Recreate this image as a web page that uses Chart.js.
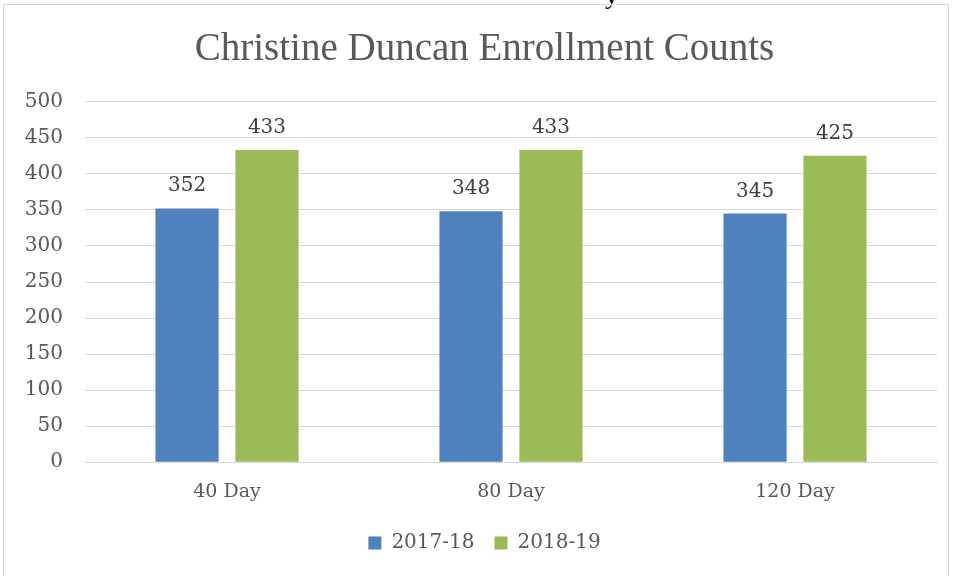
<!DOCTYPE html>
<html>
<head>
<meta charset="utf-8">
<script src="https://cdn.jsdelivr.net/npm/chart.js@4"></script>
<style>
  html, body { margin: 0; padding: 0; background: #fff; }
  #wrap { position: relative; width: 954px; height: 576px; overflow: hidden; }
  #frame { position: absolute; left: 3px; top: 4px; width: 946px; height: 580px; border: 1.5px solid #d9d9d9; box-sizing: border-box; }
  #chartBox { position: absolute; left: 0; top: 0; width: 954px; height: 576px; }
  #clipText { position: absolute; left: 605px; top: -19px; font: 26px 'Liberation Serif', serif; color: #000; }
</style>
</head>
<body>
<div id="wrap">
  <div id="clipText">y</div>
  <div id="frame"></div>
  <div id="chartBox"><canvas id="enrollChart"></canvas></div>
</div>
<script>
// Chart data
const categories = ['40 Day', '80 Day', '120 Day'];
const seriesNames = ['2017-18', '2018-19'];
const counts1718 = [352, 348, 345];
const counts1819 = [433, 433, 425];
const yTicks = [0, 50, 100, 150, 200, 250, 300, 350, 400, 450, 500];

const serif = "'DejaVu Serif', 'Liberation Serif', serif";

// draw the value above each bar
const valueLabels = {
    id: 'valueLabels',
    afterDatasetsDraw(chart) {
        const ctx = chart.ctx;
        ctx.save();
        ctx.font = '20px ' + serif;
        ctx.fillStyle = '#404040';
        ctx.textAlign = 'center';
        ctx.textBaseline = 'alphabetic';
        chart.data.datasets.forEach((ds, i) => {
            chart.getDatasetMeta(i).data.forEach((bar, j) => {
                ctx.fillText(ds.data[j], bar.x, bar.y - 17);
            });
        });
        ctx.restore();
    }
};

const enrollChart = new Chart(document.getElementById('enrollChart').getContext('2d'), {
    type: 'bar',
    data: {
        labels: categories,
        datasets: [{
            label: seriesNames[0],
            data: counts1718,
            backgroundColor: '#4f81bd',
            categoryPercentage: 0.563,
            barPercentage: 0.79
        }, {
            label: seriesNames[1],
            data: counts1819,
            backgroundColor: '#9bbb59',
            categoryPercentage: 0.563,
            barPercentage: 0.79
        }]
    },
    options: {
        responsive: true,
        maintainAspectRatio: false,
        animation: false,
        layout: { padding: { left: 16, right: 1, top: 26, bottom: 13 } },
        plugins: {
            title: {
                display: true,
                text: 'Christine Duncan Enrollment Counts',
                color: '#595959',
                font: { family: "'Liberation Serif', serif", size: 39, weight: 'normal' },
                padding: { top: 0, bottom: 29 }
            },
            legend: {
                position: 'bottom',
                labels: {
                    color: '#595959',
                    font: { family: serif, size: 20 },
                    boxWidth: 13,
                    boxHeight: 13,
                    padding: 20
                }
            },
            tooltip: { enabled: false }
        },
        scales: {
            x: {
                grid: { display: false },
                border: { color: '#d9d9d9' },
                ticks: { color: '#595959', font: { family: serif, size: 19 }, padding: 10 }
            },
            y: {
                min: 0,
                max: 500,
                afterBuildTicks(scale) { scale.ticks = yTicks.map(v => ({ value: v })); },
                afterFit(scale) { scale.width = 69; },
                grid: { color: '#d9d9d9', drawTicks: false },
                border: { display: false },
                ticks: { color: '#595959', font: { family: serif, size: 20 }, padding: 22 }
            },
            // empty right gutter so the title and legend sit where they do in the original
            gutter: {
                position: 'right',
                grid: { display: false },
                border: { display: false },
                ticks: { display: false },
                afterFit(scale) { scale.width = 16; }
            }
        }
    },
    plugins: [valueLabels]
});
</script>
</body>
</html>
